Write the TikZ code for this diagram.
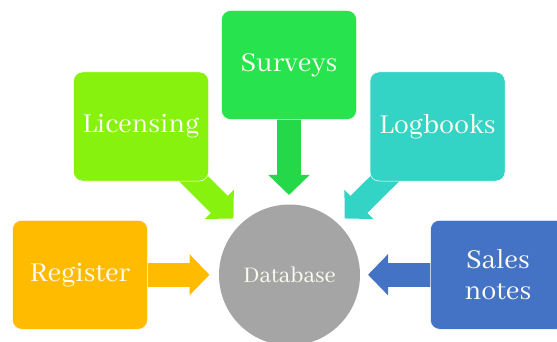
\documentclass[tikz,border=0pt]{standalone}
\usepackage{fontspec}
\setmainfont{Abhaya Libre}
\usetikzlibrary{arrows.meta,backgrounds}
\definecolor{regc}{HTML}{FFBB00}
\definecolor{licc}{HTML}{87F20E}
\definecolor{surc}{HTML}{26E34E}
\definecolor{logc}{HTML}{33D3C5}
\definecolor{salc}{HTML}{4472C4}
\definecolor{datc}{HTML}{A5A5A5}
\definecolor{txtc}{HTML}{FBFBF0}
\newcommand\lowered[1]{\raisebox{-2pt}{#1}}
\tikzset{
  card/.style={draw=white,line width=0.5pt,rounded corners=9pt,minimum width=135pt,minimum height=109pt,inner sep=0pt,align=center,text=txtc,font=\fontsize{30}{31}\selectfont},
  hub/.style={circle,fill=datc,minimum size=141pt,inner sep=0pt,text=txtc,font=\fontsize{24.5}{27}\selectfont},
  fat/.style={line width=24pt,-{Triangle[length=20pt,width=40pt]}}
}
\begin{document}
\begin{tikzpicture}[x=1pt,y=-1pt]
\useasboundingbox (0,0) rectangle (557,342);
\clip (0,0) rectangle (557,342);
\node[hub] (db) at (289.5,275) {\raisebox{1pt}{Database}};
\node[card,fill=regc] (reg) at (80,274.75) {\lowered{Register}};
\node[card,fill=licc] (lic) at (141,126.5) {\lowered{Licensing}};
\node[card,fill=surc] (sur) at (289,65) {\lowered{Surveys}};
\node[card,fill=logc] (log) at (437.5,126.5) {\lowered{Logbooks}};
\node[card,fill=salc] (sal) at (498,274.75) {Sales\\notes};
\coordinate (regtip) at (209.5,274.75);
\coordinate (lictip) at (233.5,218.5);
\coordinate (surtip) at (289,195);
\coordinate (logtip) at (344.7,218.5);
\coordinate (saltip) at (368,274.75);
\begin{scope}[on background layer]
\draw[fat,regc] (reg.center) -- (regtip);
\draw[fat,licc] (lic.center) -- (lictip);
\draw[fat,surc!95!black] (sur.center) -- (surtip);
\draw[fat,logc] (log.center) -- (logtip);
\draw[fat,salc] (sal.center) -- (saltip);
\end{scope}
\end{tikzpicture}
\end{document}
